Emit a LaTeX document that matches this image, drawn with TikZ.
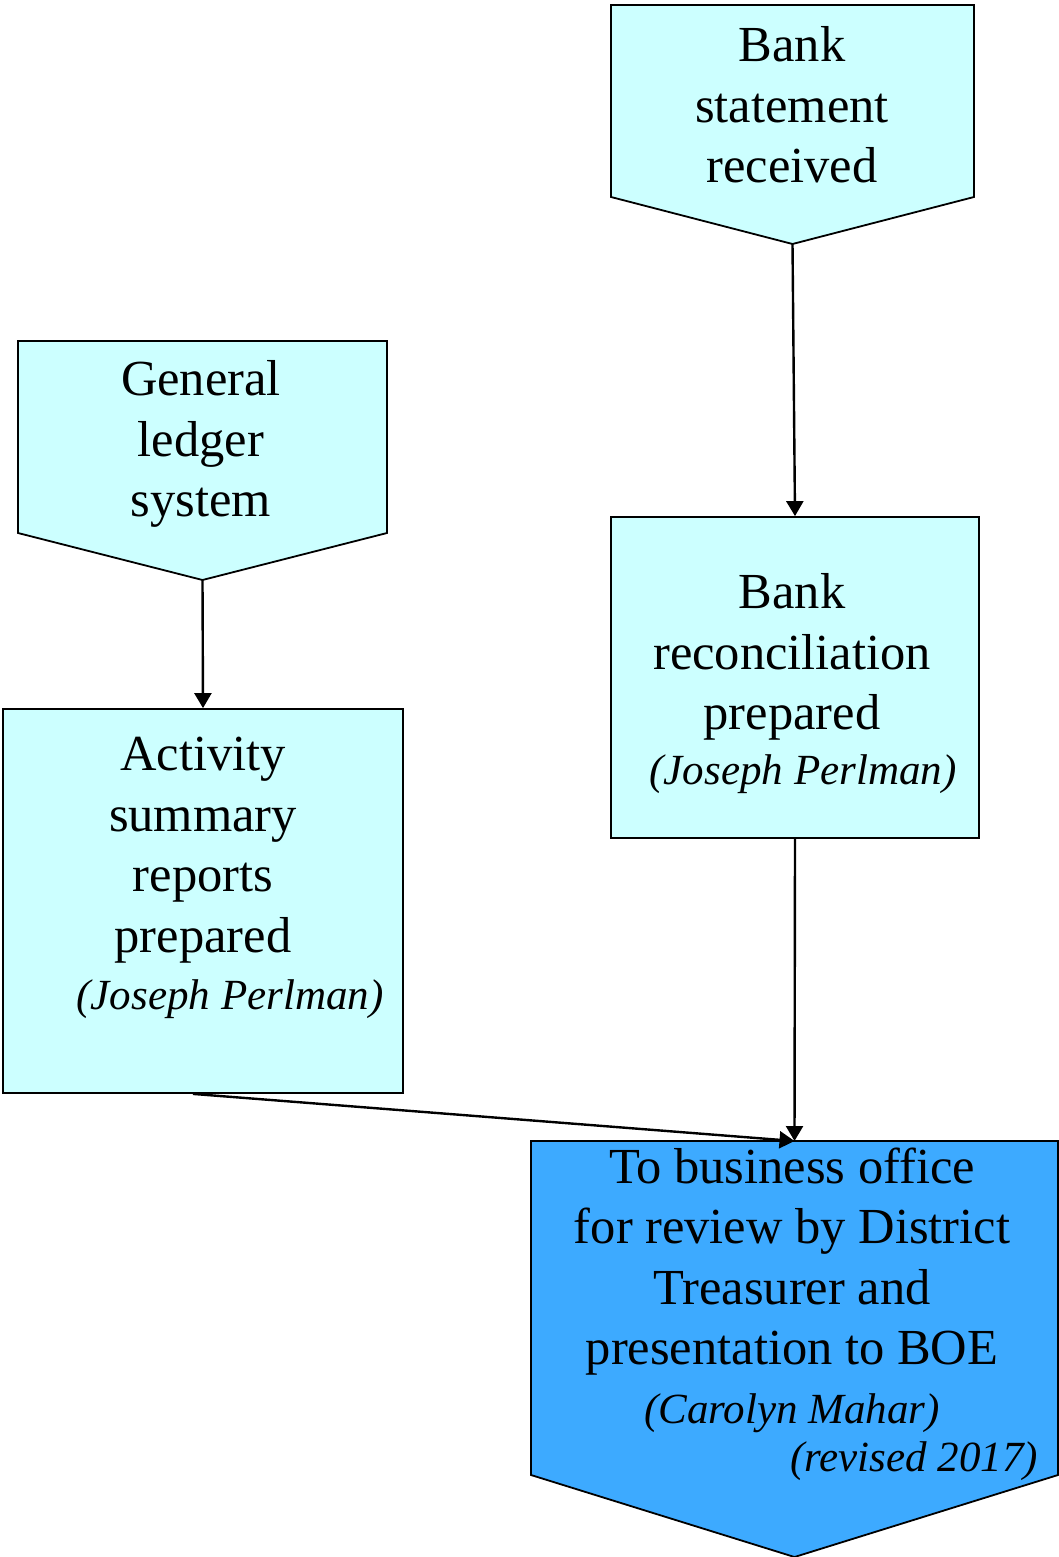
\documentclass[tikz,border=0pt]{standalone}
\usepackage{fontspec}
\setmainfont{Liberation Serif}
\usetikzlibrary{arrows.meta}
\definecolor{lightcyan}{HTML}{CCFFFF}
\definecolor{boxblue}{HTML}{3DAAFF}
\begin{document}
\begin{tikzpicture}[x=1pt,y=-1pt,
  box/.style={draw=black, line width=1.8pt, fill=lightcyan},
  frame/.style={inner sep=0pt, outer sep=0pt, draw=none},
  txt/.style={font=\fontsize{50.5}{60.5}\selectfont, align=center, inner sep=0pt, anchor=north},
  arr/.style={line width=2.4pt, -{Triangle[length=15pt,width=17pt]}}]
\newcommand{\ital}[1]{{\fontsize{43}{50}\selectfont\itshape #1}}
\useasboundingbox (0,0) rectangle (1059,1557);

% Bank statement received (pentagon)
\node[frame, minimum width=363, minimum height=192] (bs) at (792.5,101) {};
\filldraw[box] (bs.north west) -- (bs.north east) -- (bs.south east)
  -- ([yshift=-47pt]bs.south) coordinate (bstip) -- (bs.south west) -- cycle;
\node[txt] (bstext) at (792,26.5) {Bank\\statement\\received};

% General ledger system (pentagon)
\node[frame, minimum width=369, minimum height=192] (gl) at (202.5,437) {};
\filldraw[box] (gl.north west) -- (gl.north east) -- (gl.south east)
  -- ([yshift=-47pt]gl.south) coordinate (gltip) -- (gl.south west) -- cycle;
\node[txt] (gltext) at (201,360.5) {General\\ledger\\system};

% Activity summary reports
\node[box, minimum width=400, minimum height=384] (act) at (203,901) {};
\node[txt] (acttext) at (203,737) {Activity\\summary\\reports\\prepared\\[-3.5pt]\hspace*{54pt}\ital{(Joseph Perlman)}};

% Bank reconciliation
\node[box, minimum width=368, minimum height=321] (rec) at (795,677.5) {};
\node[txt] (rectext) at (792,573.5) {Bank\\reconciliation\\prepared\\[-5.5pt]\hspace*{22pt}\ital{(Joseph Perlman)}};

% Final (pentagon, blue)
\node[frame, minimum width=527, minimum height=334] (fin) at (794.5,1308) {};
\filldraw[box, fill=boxblue] (fin.north west) -- (fin.north east) -- (fin.south east)
  -- ([yshift=-82pt]fin.south) coordinate (fintip) -- (fin.south west) -- cycle;
\node[txt] (fintext) at (792,1147.5) {To business office\\for review by District\\Treasurer and\\presentation to BOE\\[-1.5pt]\ital{(Carolyn Mahar)}\\[-12.5pt]\hspace*{244pt}\ital{(revised 2017)}};

% connectors
\draw[arr] (bstip) -- (rec.north);
\draw[arr] (gltip) -- (act.north);
\draw[arr] (rec.south) -- (fin.north);
\draw[arr] ([xshift=-10pt]act.south) -- (fin.north);
\end{tikzpicture}
\end{document}
